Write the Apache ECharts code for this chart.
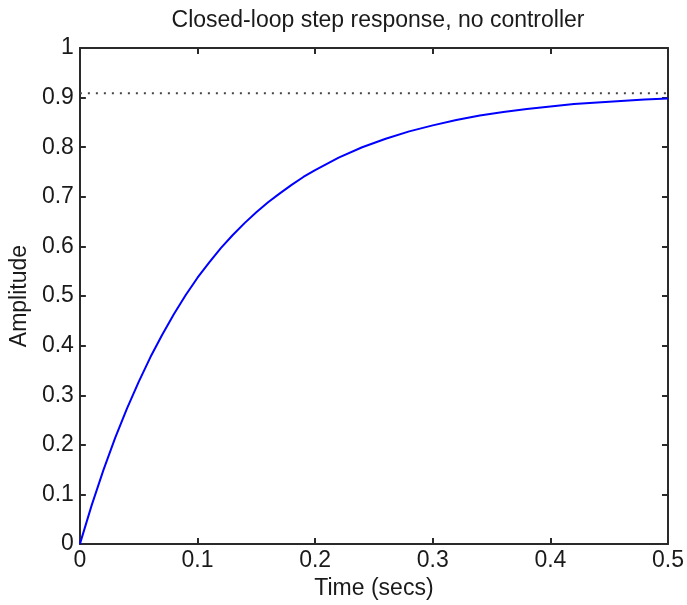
<!DOCTYPE html>
<html>
<head>
<meta charset="utf-8">
<script src="https://cdn.jsdelivr.net/npm/echarts@6/dist/echarts.min.js"></script>
<style>
html,body{margin:0;padding:0;background:#fff;}
#chart{width:687px;height:605px;}
</style>
</head>
<body>
<div id="chart"></div>
<script>
// Data
var time = [0, 0.01, 0.02, 0.03, 0.04, 0.05, 0.06, 0.07, 0.08, 0.09, 0.10,
            0.11, 0.12, 0.13, 0.14, 0.15, 0.16, 0.17, 0.18, 0.19, 0.20,
            0.22, 0.24, 0.26, 0.28, 0.30, 0.32, 0.34, 0.36, 0.38, 0.40,
            0.42, 0.44, 0.46, 0.48, 0.50];
var amplitude = [0, 0.078, 0.149, 0.214, 0.273, 0.327, 0.377, 0.422, 0.464, 0.502, 0.537,
                 0.568, 0.597, 0.623, 0.647, 0.669, 0.689, 0.707, 0.724, 0.740, 0.754,
                 0.779, 0.800, 0.817, 0.832, 0.844, 0.855, 0.864, 0.871, 0.877, 0.882,
                 0.887, 0.890, 0.893, 0.896, 0.898];
var steadyState = 0.909;
var xRange = [0, 0.5];
var yRange = [0, 1];
var titleText = 'Closed-loop step response, no controller';
var xName = 'Time (secs)';
var yName = 'Amplitude';

var FONT = 'Liberation Sans';
var TXT = '#1a1a1a';
var AX = '#2a2a2a';

var chart = echarts.init(document.getElementById('chart'), null, {renderer: 'canvas'});

var curve = time.map(function (t, i) { return [t, amplitude[i]]; });
var ref = [[xRange[0], steadyState], [xRange[1], steadyState]];

function xAxisCfg(pos, show) {
  return {
    type: 'value', position: pos, min: xRange[0], max: xRange[1], interval: 0.1,
    axisLine: {show: true, onZero: false, lineStyle: {color: AX, width: 2}},
    axisTick: {show: true, inside: true, length: 6, lineStyle: {color: AX, width: 2}},
    axisLabel: {show: show, color: TXT, fontFamily: FONT, fontSize: 23, margin: 5},
    splitLine: {show: false},
    name: show ? xName : '', nameLocation: 'middle', nameGap: 27,
    nameTextStyle: {color: TXT, fontFamily: FONT, fontSize: 23}
  };
}
function yAxisCfg(pos, show) {
  return {
    type: 'value', position: pos, min: yRange[0], max: yRange[1], interval: 0.1,
    axisLine: {show: true, onZero: false, lineStyle: {color: AX, width: 2}},
    axisTick: {show: true, inside: true, length: 6, lineStyle: {color: AX, width: 2}},
    axisLabel: {show: show, color: TXT, fontFamily: FONT, fontSize: 23, margin: 6},
    splitLine: {show: false},
    name: show ? yName : '', nameLocation: 'middle', nameGap: 44,
    nameTextStyle: {color: TXT, fontFamily: FONT, fontSize: 23}
  };
}

chart.setOption({
  animation: false,
  backgroundColor: '#ffffff',
  title: {
    text: titleText, left: 373, top: 4, textAlign: 'center',
    textStyle: {color: TXT, fontFamily: FONT, fontSize: 23, fontWeight: 'normal'}
  },
  grid: {left: 76, top: 48, width: 595, height: 505, containLabel: false},
  xAxis: [xAxisCfg('bottom', true), xAxisCfg('top', false)],
  yAxis: [yAxisCfg('left', true), yAxisCfg('right', false)],
  series: [
    {
      type: 'line', data: ref, showSymbol: false, symbol: 'none',
      lineStyle: {color: '#444', width: 2, type: [2, 6]}, z: 2
    },
    {
      type: 'line', data: curve, showSymbol: false, symbol: 'none',
      lineStyle: {color: '#0000ff', width: 2}, z: 3
    }
  ]
});
</script>
</body>
</html>
